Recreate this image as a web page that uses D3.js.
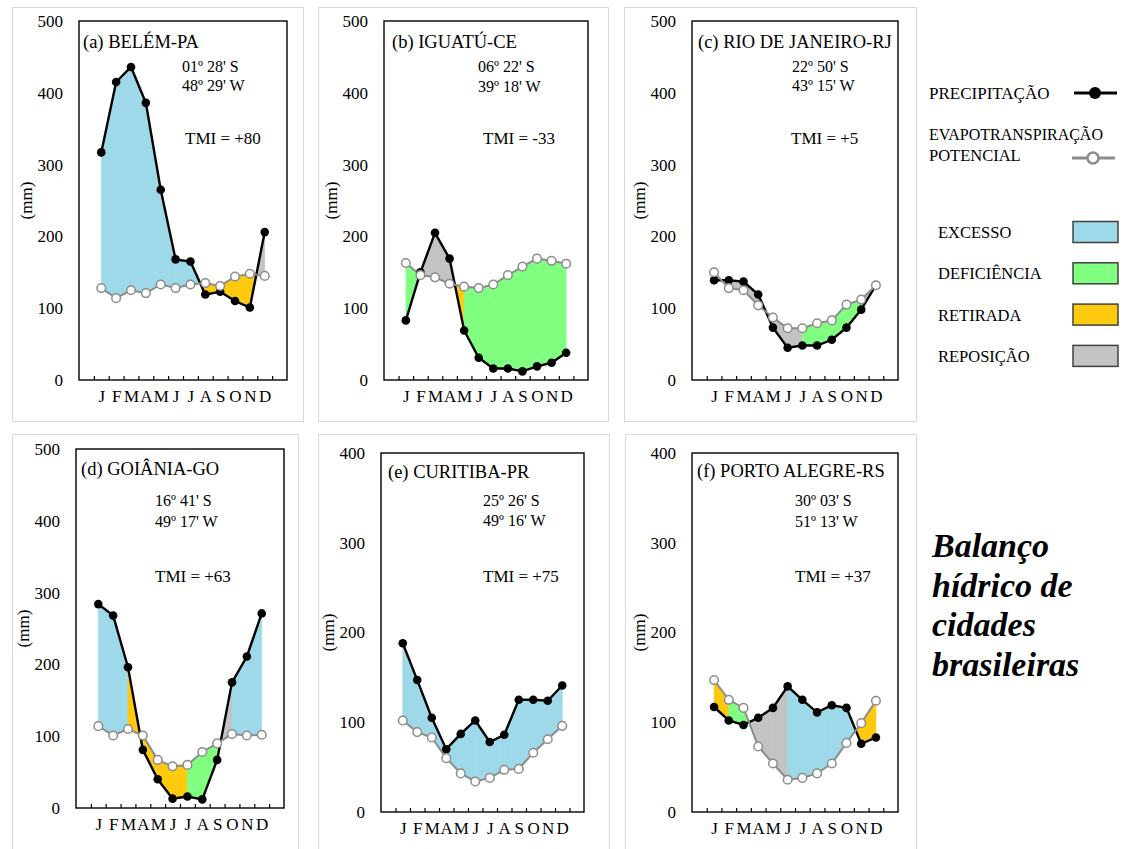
<!DOCTYPE html>
<html>
<head>
<meta charset="utf-8">
<script src="https://cdn.jsdelivr.net/npm/d3@7"></script>
<style>
body{margin:0;background:#fff;}
svg text{font-family:"Liberation Serif","Times New Roman",serif;fill:#000;}
</style>
</head>
<body>
<div id="chart"></div>
<script>
// Balanço hídrico (precipitação x evapotranspiração potencial), 6 cidades
const months = ["J","F","M","A","M","J","J","A","S","O","N","D"];
const cities = ["(a) BELÉM-PA","(b) IGUATÚ-CE","(c) RIO DE JANEIRO-RJ","(d) GOIÂNIA-GO","(e) CURITIBA-PR","(f) PORTO ALEGRE-RS"];
const latitudes = ["01º 28' S","06º 22' S","22º 50' S","16º 41' S","25º 26' S","30º 03' S"];
const longitudes = ["48º 29' W","39º 18' W","43º 15' W","49º 17' W","49º 16' W","51º 13' W"];
const tmiLabels = ["TMI = +80","TMI = -33","TMI = +5","TMI = +63","TMI = +75","TMI = +37"];
const yMax = [500,500,500,500,400,400];

// mm por mês
const precipBelem  = [317,415,436,386,265,168,165,119,123,110,101,206];
const etpBelem     = [128,114,125,121,133,128,133,135,131,144,148,145];
const precipIguatu = [83,150,205,169,69,31,16,16,12,19,24,38];
const etpIguatu    = [163,146,143,134,130,128,133,146,158,169,166,162];
const precipRio    = [139,139,137,119,73,45,48,48,56,73,98,132];
const etpRio       = [150,128,125,104,87,72,72,79,83,105,112,132];
const precipGoiania= [284,268,196,81,40,13,16,12,67,175,211,271];
const etpGoiania   = [114,101,110,101,67,58,60,78,90,103,101,102];
const precipCuritiba=[188,147,105,70,87,102,78,86,125,125,124,141];
const etpCuritiba  = [102,89,83,60,43,34,38,47,48,66,81,96];
const precipPoa    = [117,102,97,105,116,140,125,111,119,116,76,83];
const etpPoa       = [147,125,116,73,54,36,38,43,54,77,99,124];

// classe de cada intervalo entre meses (11): quando P>ETP e quando P<ETP
// E=excesso D=deficiência R=retirada S=reposição -=nada
const surplusBelem = "EEEEEEE---S", deficitBelem = "------RRRRR";
const surplusIguatu = "SSSS-------", deficitIguatu = "D--RDDDDDDD";
const surplusRio = "SSSS-------", deficitRio = "S--SSSDDDDD";
const surplusGoiania = "EER-----SEE", deficitGoiania = "--RRRRDDD--";
const surplusCuritiba = "EEEEEEEEEEE", deficitCuritiba = "-----------";
const surplusPoa = "--SSSEEEEE-", deficitPoa = "RDD------RR";

const legendLines = ["PRECIPITAÇÃO","EVAPOTRANSPIRAÇÃO","POTENCIAL"];
const legendClasses = ["EXCESSO","DEFICIÊNCIA","RETIRADA","REPOSIÇÃO"];
const titleLines = ["Balanço","hídrico de","cidades","brasileiras"];

const colors = {E:"#9dd9e8", D:"#80ff80", R:"#ffc90e", S:"#c3c3c3"};
const classKeys = ["E","D","R","S"];

const precip = [precipBelem,precipIguatu,precipRio,precipGoiania,precipCuritiba,precipPoa];
const etp = [etpBelem,etpIguatu,etpRio,etpGoiania,etpCuritiba,etpPoa];
const surplus = [surplusBelem,surplusIguatu,surplusRio,surplusGoiania,surplusCuritiba,surplusPoa];
const deficit = [deficitBelem,deficitIguatu,deficitRio,deficitGoiania,deficitCuritiba,deficitPoa];

// layout
const boxes = [[12,7,291,414],[318,7,290,414],[624,7,292,414],[12,434,286,420],[318,434,291,420],[625,434,291,420]];
const plots = [[79,21,208,359],[384,21,204,359],[692,21,206,359],[76,449,208,359],[381,453,203,359],[692,453,206,359]];
const txt = [ // title dx,dy | coord dx,dy1,dy2 | tmi dx,dy
  [4,27,103,51,70,106,123],
  [8,27,94,51,71,99,123],
  [6,27,100,51,70,99,123],
  [5,26,79,57,78,79,133],
  [7,25,102,53,73,102,129],
  [5,24,103,53,74,103,129]];

const svg = d3.select("#chart").append("svg")
  .attr("width",1136).attr("height",849);

cities.forEach(function(name,k){
  const b = boxes[k], p = plots[k], t = txt[k];
  svg.append("rect").attr("x",b[0]+0.5).attr("y",b[1]+0.5)
    .attr("width",b[2]).attr("height",b[3])
    .attr("fill","none").attr("stroke","#d9d9d9");

  const g = svg.append("g").attr("transform",`translate(${p[0]},${p[1]})`);
  const w = p[2], h = p[3];
  const x = d3.scaleLinear().domain([-1.5,12.5]).range([0,w]);
  const y = d3.scaleLinear().domain([0,yMax[k]]).range([h,0]);

  // areas between curves
  const P = precip[k], E = etp[k];
  const polys = [];
  for(let i=0;i<11;i++){
    const d0 = P[i]-E[i], d1 = P[i+1]-E[i+1];
    const cls = d => d>=0 ? surplus[k][i] : deficit[k][i];
    if(d0*d1 < 0){
      const tt = d0/(d0-d1);
      const xc = i+tt, yc = P[i]+tt*(P[i+1]-P[i]);
      polys.push({c:cls(d0), pts:[[i,P[i]],[xc,yc],[i,E[i]]]});
      polys.push({c:cls(d1), pts:[[xc,yc],[i+1,P[i+1]],[i+1,E[i+1]]]});
    } else {
      const c = (d0===0) ? cls(d1) : cls(d0);
      polys.push({c:c, pts:[[i,P[i]],[i+1,P[i+1]],[i+1,E[i+1]],[i,E[i]]]});
    }
  }
  const poly = d3.line().x(d=>x(d[0])).y(d=>y(d[1]));
  g.selectAll(".area").data(polys.filter(d=>d.c!=="-")).enter()
    .append("path").attr("d",d=>poly(d.pts)+"Z")
    .attr("fill",d=>colors[d.c]).attr("stroke",d=>colors[d.c]).attr("stroke-width",0.6);

  const line = d3.line().x((d,i)=>x(i)).y(d=>y(d));
  g.append("path").attr("d",line(P)).attr("fill","none")
    .attr("stroke","#000").attr("stroke-width",2.4);
  g.append("path").attr("d",line(E)).attr("fill","none")
    .attr("stroke","#8c8c8c").attr("stroke-width",2);
  g.selectAll(".pdot").data(P).enter().append("circle")
    .attr("cx",(d,i)=>x(i)).attr("cy",d=>y(d)).attr("r",4.3).attr("fill","#000");
  g.selectAll(".edot").data(E).enter().append("circle")
    .attr("cx",(d,i)=>x(i)).attr("cy",d=>y(d)).attr("r",4.3)
    .attr("fill","#fff").attr("stroke","#8c8c8c").attr("stroke-width",1.5);

  // axes
  const yAxis = g.append("g").call(d3.axisLeft(y).tickValues(d3.range(0,yMax[k]+1,100))
    .tickSize(0).tickPadding(16));
  yAxis.select(".domain").remove();
  yAxis.selectAll("text").attr("font-size",17).style("font-family","Liberation Serif, serif").attr("fill","#000");

  const xTicks = g.append("g").attr("transform",`translate(0,${h})`)
    .call(d3.axisBottom(x).tickValues(d3.range(13).map(i=>i-0.5)).tickSize(-4).tickFormat(""));
  xTicks.select(".domain").remove();
  xTicks.selectAll("line").attr("stroke","#000").attr("stroke-width",1.2);

  const xLab = g.append("g").attr("transform",`translate(0,${h})`)
    .call(d3.axisBottom(x).tickValues(d3.range(12)).tickSize(0).tickPadding(10)
      .tickFormat(i=>months[i]));
  xLab.select(".domain").remove();
  xLab.selectAll("text").attr("font-size",17).style("font-family","Liberation Serif, serif").attr("fill","#000");

  g.append("rect").attr("width",w).attr("height",h)
    .attr("fill","none").attr("stroke","#000").attr("stroke-width",1.4);

  g.append("text").attr("transform",`translate(-53,${h/2}) rotate(-90)`)
    .attr("text-anchor","middle").attr("dy","0.35em").attr("font-size",17).text("(mm)");

  g.append("text").attr("x",t[0]).attr("y",t[1]).attr("font-size",18.5).text(name);
  g.append("text").attr("x",t[2]).attr("y",t[3]).attr("font-size",16).text(latitudes[k]);
  g.append("text").attr("x",t[2]).attr("y",t[4]).attr("font-size",16).text(longitudes[k]);
  g.append("text").attr("x",t[5]).attr("y",t[6]).attr("font-size",17).text(tmiLabels[k]);
});

// legend
const lg = svg.append("g");
lg.append("text").attr("x",929).attr("y",99).attr("font-size",17).text(legendLines[0]);
lg.append("line").attr("x1",1074).attr("x2",1117).attr("y1",93).attr("y2",93)
  .attr("stroke","#000").attr("stroke-width",3);
lg.append("circle").attr("cx",1095).attr("cy",93).attr("r",6).attr("fill","#000");
lg.append("text").attr("x",929).attr("y",140).attr("font-size",16).text(legendLines[1]);
lg.append("text").attr("x",929).attr("y",161).attr("font-size",16.5).text(legendLines[2]);
lg.append("line").attr("x1",1072).attr("x2",1115).attr("y1",158).attr("y2",158)
  .attr("stroke","#8c8c8c").attr("stroke-width",3);
lg.append("circle").attr("cx",1093).attr("cy",158).attr("r",5.5)
  .attr("fill","#fff").attr("stroke","#8c8c8c").attr("stroke-width",2.5);

legendClasses.forEach(function(lbl,i){
  const yy = 238 + i*41.3;
  lg.append("text").attr("x",938).attr("y",yy).attr("font-size",16.5).text(lbl);
  lg.append("rect").attr("x",1073).attr("y",yy-16.5).attr("width",45).attr("height",21)
    .attr("fill",colors[classKeys[i]]).attr("stroke","#404040").attr("stroke-width",1.5);
});

// big title
svg.append("g").selectAll("text").data(titleLines).enter().append("text")
  .attr("x",932).attr("y",(d,i)=>557+i*39.5)
  .attr("font-size",34).attr("font-weight","bold").attr("font-style","italic")
  .text(d=>d);
</script>
</body>
</html>
